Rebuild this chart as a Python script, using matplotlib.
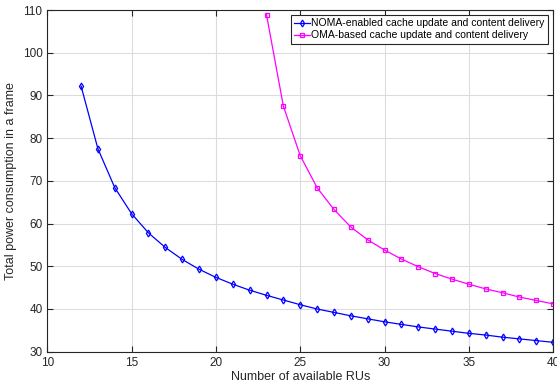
import numpy as np
import matplotlib.pyplot as plt

plt.rcParams['font.family'] = ['Liberation Sans', 'DejaVu Sans']

ru_noma = list(range(12, 41))
power_noma = [92.2, 77.5, 68.4, 62.3, 57.8, 54.4, 51.6, 49.3, 47.4, 45.8,
              44.4, 43.2, 42.1, 41.0, 40.0, 39.2, 38.4, 37.7, 37.0, 36.4,
              35.8, 35.3, 34.8, 34.3, 33.9, 33.4, 33.0, 32.6, 32.2]

ru_oma = list(range(23, 41))
power_oma = [108.9, 87.5, 75.9, 68.4, 63.3, 59.2, 56.2, 53.8, 51.7, 49.9,
             48.3, 47.0, 45.8, 44.7, 43.8, 42.8, 42.0, 41.2]

fig = plt.figure(figsize=(5.57, 3.85), dpi=100)
ax = fig.add_axes([0.085, 0.0865, 0.908, 0.8875])

ax.plot(ru_noma, power_noma, color='#0000ff', lw=0.9, marker='d', ms=3.5,
        mfc='none', mew=0.9, label='NOMA-enabled cache update and content delivery')
ax.plot(ru_oma, power_oma, color='#ff00ff', lw=0.9, marker='s', ms=3,
        mfc='none', mew=0.9, label='OMA-based cache update and content delivery')

ax.set_xlim(10, 40)
ax.set_ylim(30, 110)
ax.set_xticks(np.arange(10, 41, 5))
ax.set_yticks(np.arange(30, 111, 10))
ax.grid(True, color='#dcdcdc', lw=0.8)
ax.set_axisbelow(True)
ax.tick_params(direction='in', top=True, right=True, labelsize=8.5,
               colors='#262626', length=4)
for s in ax.spines.values():
    s.set_color('#262626')
    s.set_linewidth(0.8)

ax.set_xlabel('Number of available RUs', fontsize=9, color='#262626', labelpad=2)
ax.set_ylabel('Total power consumption in a frame', fontsize=9, color='#262626', labelpad=4)

leg = ax.legend(loc='upper right', fontsize=7.5, fancybox=False, framealpha=1,
                edgecolor='#262626', borderpad=0.3, handlelength=1.6,
                handletextpad=0.1, labelspacing=0.2, borderaxespad=0.5)
leg.get_frame().set_linewidth(0.8)

fig.savefig('out.png', dpi=100)
